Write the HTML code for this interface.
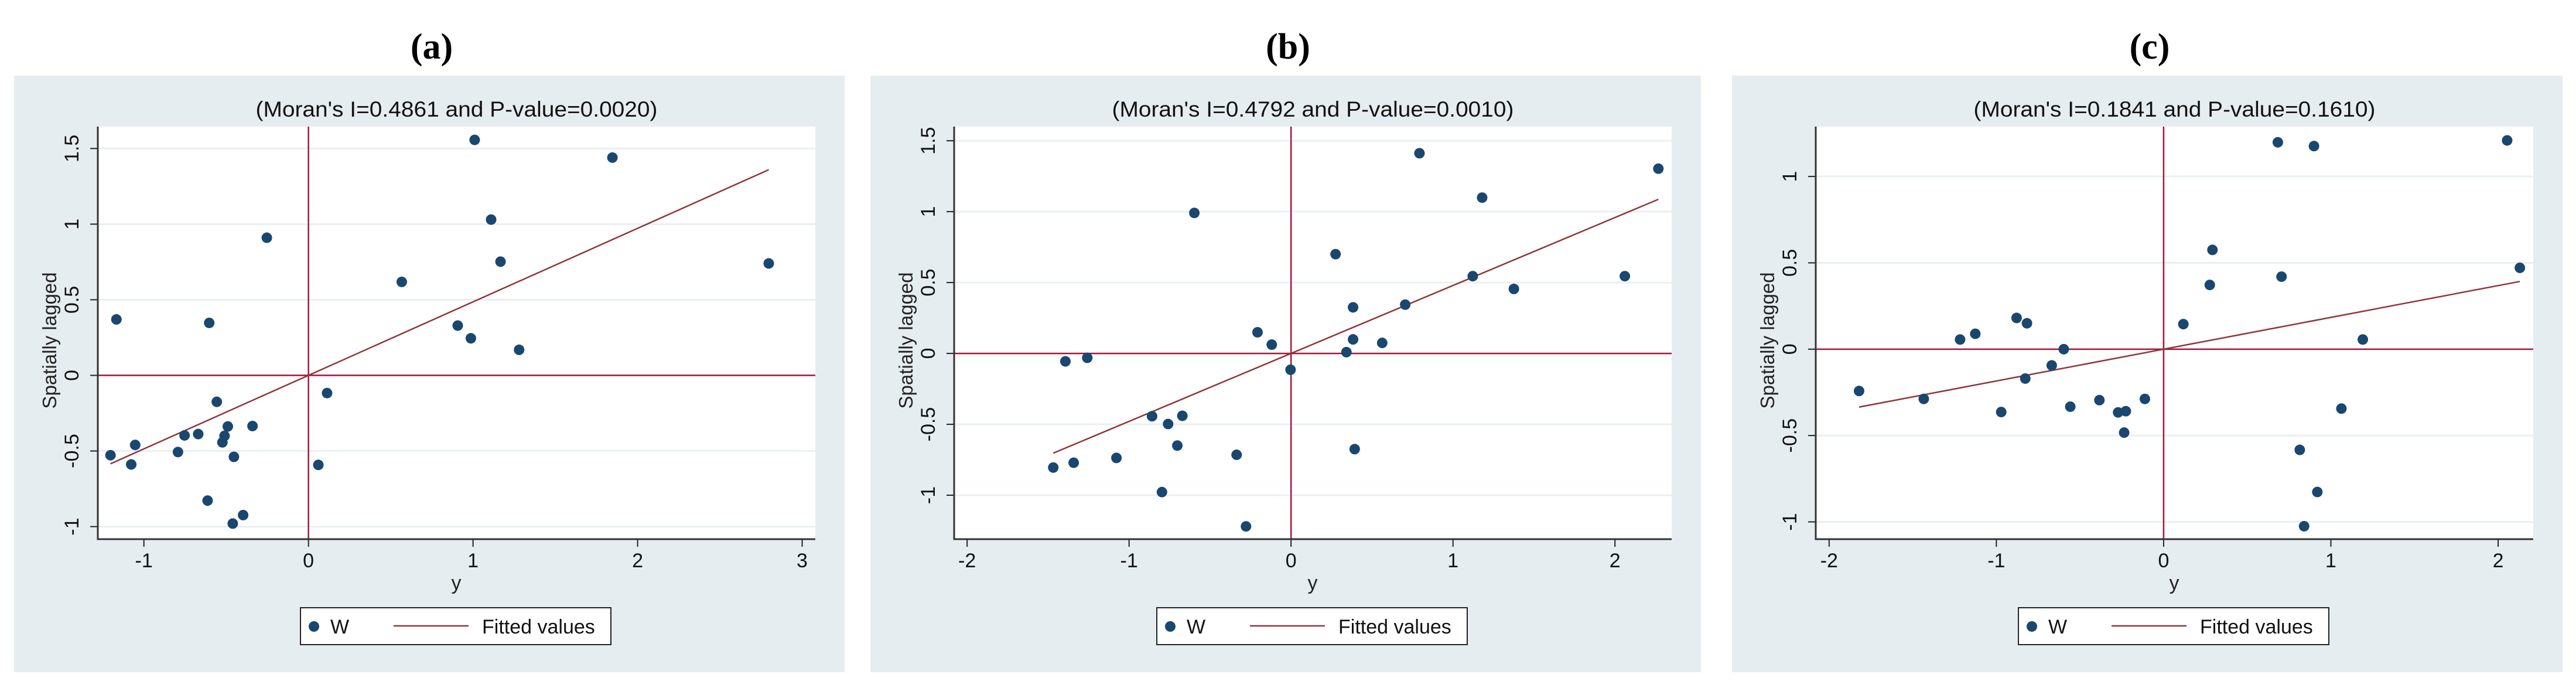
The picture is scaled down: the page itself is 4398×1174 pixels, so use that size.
<!DOCTYPE html>
<html><head><meta charset="utf-8"><style>
html,body{margin:0;padding:0;background:#fff;}
svg{display:block;font-family:"Liberation Sans",Arial,sans-serif;}
</style></head><body>
<svg id="fig" width="4398" height="1174" viewBox="0 0 4398 1174" xmlns="http://www.w3.org/2000/svg"></svg>
<script>
// ---- data ----
const panelLabels = ["(a)", "(b)", "(c)"];
const moranI = [0.4861, 0.4792, 0.1841];
const pValues = ["0.0020", "0.0010", "0.1610"];
const xTicksA = [-1, 0, 1, 2, 3];
const yTicksA = [-1, -0.5, 0, 0.5, 1, 1.5];
const xTicksB = [-2, -1, 0, 1, 2];
const yTicksB = [-1, -0.5, 0, 0.5, 1, 1.5];
const xTicksC = [-2, -1, 0, 1, 2];
const yTicksC = [-1, -0.5, 0, 0.5, 1];
const yA = [1.01,1.847,1.11,-0.253,1.167,2.797,0.567,-1.167,-0.603,0.907,0.987,1.28,0.113,-0.557,-0.34,-0.49,-0.753,-0.67,-0.51,-0.523,-1.053,-0.793,-1.203,-0.453,-1.077,0.06,-0.613,-0.397,-0.46];
const wA = [1.557,1.44,1.03,0.91,0.752,0.74,0.618,0.37,0.347,0.329,0.245,0.169,-0.117,-0.175,-0.335,-0.338,-0.397,-0.388,-0.4,-0.443,-0.46,-0.507,-0.528,-0.539,-0.589,-0.592,-0.828,-0.924,-0.98];
const yB = [0.793,2.268,1.18,-0.597,0.275,1.122,2.061,1.376,0.383,0.705,-0.207,-0.119,0.383,0.563,0.342,-1.393,-1.258,-0.003,-0.858,-0.671,-0.759,-0.702,-0.336,0.393,-1.078,-1.342,-1.468,-0.797,-0.278];
const wB = [1.412,1.303,1.099,0.991,0.70,0.545,0.545,0.455,0.325,0.344,0.149,0.062,0.099,0.074,0.009,-0.056,-0.031,-0.115,-0.443,-0.44,-0.498,-0.65,-0.715,-0.675,-0.737,-0.771,-0.805,-0.978,-1.22];
const yC = [0.683,0.899,2.054,0.292,2.13,0.705,0.276,0.118,-0.879,-0.817,-1.126,-1.217,1.191,-0.597,-0.669,-0.827,-1.821,-1.434,-0.112,-0.384,-0.558,1.063,-0.971,-0.272,-0.226,-0.236,0.814,0.919,0.84];
const wC = [1.198,1.176,1.209,0.575,0.471,0.42,0.372,0.145,0.181,0.15,0.089,0.056,0.056,0,-0.094,-0.17,-0.242,-0.288,-0.288,-0.295,-0.333,-0.344,-0.364,-0.366,-0.359,-0.483,-0.583,-0.827,-1.025];
const xRanges = [[-1.28, 3.08], [-2.08, 2.35], [-2.08, 2.21]];
const yRanges = [[-1.083, 1.645], [-1.31, 1.6], [-1.10, 1.289]];

// ---- layout ----
const NS = "http://www.w3.org/2000/svg";
const svg = document.getElementById("fig");
const plotLefts = [167, 1629, 3100];
const PW = 1225, PT = 216, PB = 920;
const panels = [
  {x: yA, w: wA, xt: xTicksA, yt: yTicksA},
  {x: yB, w: wB, xt: xTicksB, yt: yTicksB},
  {x: yC, w: wC, xt: xTicksC, yt: yTicksC}
];
function mk(tag, attrs, parent){
  const e = document.createElementNS(NS, tag);
  for (const k in attrs) e.setAttribute(k, attrs[k]);
  (parent || svg).appendChild(e);
  return e;
}
const RED = "#a3163a", FIT = "#90353b", DOT = "#1a476f", GREY = "#e6edf1";

panels.forEach((p, i) => {
  const L = plotLefts[i], R = L + PW;
  const [x0, x1] = xRanges[i], [y0, y1] = yRanges[i];
  const sx = v => L + (v - x0) / (x1 - x0) * PW;
  const sy = v => PB - (v - y0) / (y1 - y0) * (PB - PT);
  const g = mk("g", {});
  
  

  const bg = mk("rect", {x: L - 143, y: 129, width: 1418, height: 1018, fill: GREY}, g);
  
  

  const lab = mk("text", {x: L + 570, y: 100, "font-family": "Liberation Serif, serif", "font-weight": "bold", "font-size": 62, "text-anchor": "middle", fill: "#000"}, g);
  lab.textContent = panelLabels[i];
  
  

  const ttl = mk("text", {x: L + PW / 2, y: 199, "font-size": 37, "text-anchor": "middle", fill: "#111", textLength: 686, lengthAdjust: "spacingAndGlyphs"}, g);
  ttl.textContent = "(Moran's I=" + moranI[i].toFixed(4) + " and P-value=" + pValues[i] + ")";
  
  

  const pa = mk("rect", {x: L, y: PT, width: PW, height: PB - PT, fill: "#fff"}, g);
  
  

  p.yt.forEach(t => {
    const y = sy(t);
    const gl = mk("line", {x1: L, x2: R, y1: y, y2: y, stroke: "#eaf0f2", "stroke-width": 3}, g);
    
    
    const tk = mk("line", {x1: L - 13, x2: L, y1: y, y2: y, stroke: "#222", "stroke-width": 2}, g);
    
    
    const tl = mk("text", {x: 0, y: 0, transform: "translate(" + (L - 33) + "," + y + ") rotate(-90)", "font-size": 34, "text-anchor": "middle", fill: "#111"}, g);
    tl.textContent = String(t);
    
    
  });
  p.xt.forEach(t => {
    const x = sx(t);
    const tk = mk("line", {x1: x, x2: x, y1: PB, y2: PB + 13, stroke: "#222", "stroke-width": 2}, g);
    
    
    const tl = mk("text", {x: x, y: 968, "font-size": 34, "text-anchor": "middle", fill: "#111"}, g);
    tl.textContent = String(t);
    
    
  });

  const hz = mk("line", {x1: L, x2: R, y1: sy(0), y2: sy(0), stroke: RED, "stroke-width": 2.5}, g);
  
  
  const vt = mk("line", {x1: sx(0), x2: sx(0), y1: PT, y2: PB, stroke: RED, "stroke-width": 2.5}, g);
  
  

  const mn = Math.min(...p.x), mx = Math.max(...p.x);
  const fit = mk("line", {x1: sx(mn), y1: sy(moranI[i] * mn), x2: sx(mx), y2: sy(moranI[i] * mx), stroke: FIT, "stroke-width": 2.5}, g);
  
  

  p.x.forEach((xv, k) => {
    const c = mk("circle", {cx: sx(xv), cy: sy(p.w[k]), r: 9, fill: DOT}, g);
    
    
  });

  const ax = mk("path", {d: "M" + L + " " + PT + " V" + PB + " H" + R, fill: "none", stroke: "#333", "stroke-width": 3}, g);
  
  

  const yt = mk("text", {x: 0, y: 0, transform: "translate(" + (L - 71) + ",581) rotate(-90)", "font-size": 33, "text-anchor": "middle", fill: "#222"}, g);
  yt.textContent = "Spatially lagged";
  
  
  const xt = mk("text", {x: L + 612, y: 1006, "font-size": 34, "text-anchor": "middle", fill: "#222"}, g);
  xt.textContent = "y";
  
  

  const lg = mk("g", {}, g);
  
  
  mk("rect", {x: L + 346, y: 1037, width: 530, height: 63, fill: "#fff", stroke: "#222", "stroke-width": 2}, lg);
  const ld = mk("circle", {cx: L + 369, cy: 1069, r: 9, fill: DOT}, lg);
  
  
  const lw = mk("text", {x: L + 397, y: 1081, "font-size": 34, fill: "#111"}, lg);
  lw.textContent = "W";
  
  
  const ll = mk("line", {x1: L + 505, x2: L + 633, y1: 1068, y2: 1068, stroke: FIT, "stroke-width": 2.5}, lg);
  
  
  const lf = mk("text", {x: L + 656, y: 1081, "font-size": 34, fill: "#111"}, lg);
  lf.textContent = "Fitted values";
  
  
});
</script>
</body></html>
